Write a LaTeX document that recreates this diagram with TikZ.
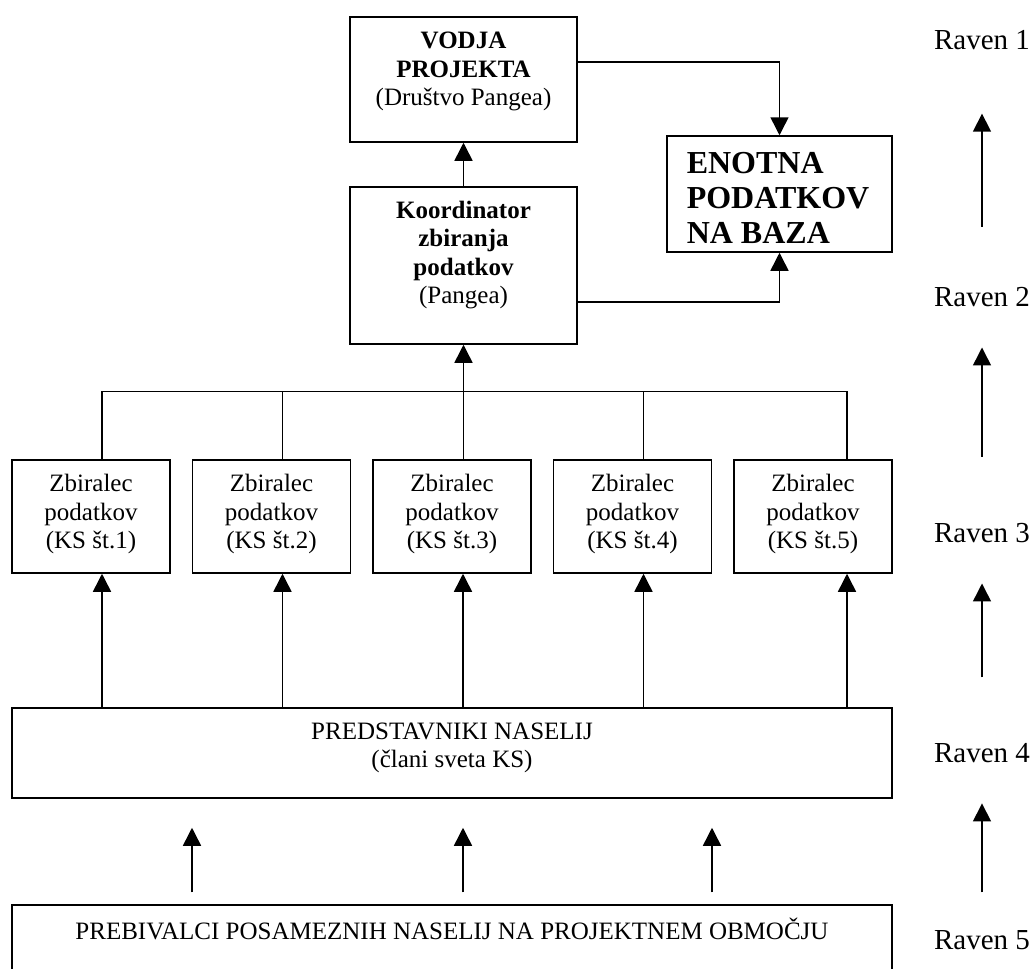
\documentclass[tikz,border=0pt]{standalone}
\usepackage{fontspec}
\setmainfont{Liberation Serif}
\usetikzlibrary{arrows.meta}

\begin{document}
\begin{tikzpicture}[x=0.5pt,y=-0.5pt,line width=0.75pt,
	box/.style={draw,inner sep=0pt},
	txt/.style={align=center,inner sep=0pt,font=\fontsize{12.5}{14.3}\selectfont},
	raven/.style={inner sep=0pt,font=\fontsize{14.5}{17}\selectfont},
	arr/.style={-{Triangle[width=9pt,length=9pt]}}]
	\useasboundingbox (0,0) rectangle (1034,969);
	
	\node[box,minimum width=113.5pt,minimum height=62.5pt] (vodja) at (463.5,79.5) {};
	\node[txt] (vodja-t) at (463.5,71.5) {\textbf{VODJA}\\\textbf{PROJEKTA}\\(Društvo Pangea)};
	\node[box,minimum width=113.5pt,minimum height=78.5pt] (koord) at (463.5,265.5) {};
	\node[txt] (koord-t) at (463.5,255) {\textbf{Koordinator}\\\textbf{zbiranja}\\\textbf{podatkov}\\(Pangea)};
	\node[box,minimum width=112.5pt,minimum height=58pt] (baza) at (779.5,194) {};
	\node[txt,align=left,anchor=west,font=\fontsize{16}{17.5}\selectfont\bfseries] (baza-t) at (686,198) {ENOTNA\\PODATKOV\\NA BAZA};
	
	\foreach \i/\x in {1/91,2/271.5,3/452,4/632.5,5/813} {
		\node[box,minimum width=79pt,minimum height=56.5pt] (zb\i) at (\x,516.5) {};
		\node[txt] (zb\i-t) at (\x,514) {Zbiralec\\podatkov\\(KS št.\i)};
	}
	
	\node[box,minimum width=440pt,minimum height=45pt] (pred) at (452,753) {};
	\node[txt] (pred-t) at (452,748) {PREDSTAVNIKI NASELIJ\\(člani sveta KS)};
	\node[box,minimum width=440pt,minimum height=47.5pt] (preb) at (452,952.5) {};
	\node[txt] (preb-t) at (452,929) {PREBIVALCI POSAMEZNIH NASELIJ NA PROJEKTNEM OBMOČJU};
	
	\foreach \i/\y in {1/40,2/297,3/533,4/753,5/940}
		\node[raven] (r\i) at (982,\y) {Raven \i};
	
	\draw[arr] (koord) -- (vodja);
	\draw[arr] ([yshift=8.75pt]vodja.east) -| (baza.north);
	\draw[arr] ([yshift=-18.25pt]koord.east) -| (baza.south);
	\draw[arr] (zb3.north -| koord.south) -- (koord.south);
	\draw ([xshift=5.5pt,yshift=34pt]zb1.north) -- ([xshift=17pt,yshift=34pt]zb5.north);
	\foreach \i/\d in {1/5.5,2/5.5,4/5.5,5/17}
		\draw ([xshift=\d pt]zb\i.north) -- ([xshift=\d pt,yshift=34pt]zb\i.north);
	\foreach \i/\d in {1/5.5,2/5.5,3/5.5,4/5.5,5/17}
		\draw[arr] ([xshift=\d pt]zb\i.south |- pred.north) -- ([xshift=\d pt]zb\i.south);
	\foreach \d in {-130,5.5,130}
		\draw[arr,shorten <=6pt,shorten >=14.5pt] ([xshift=\d pt]preb.north) -- ([xshift=\d pt]pred.south);
	
	\draw[arr,shorten <=30pt,shorten >=31.6pt] (r2) -- (r1);
	\draw[arr,shorten <=33pt,shorten >=20pt] (r3) -- (r2);
	\draw[arr,shorten <=32.6pt,shorten >=20pt] (r4) -- (r3);
	\draw[arr,shorten <=18.6pt,shorten >=20pt] (r5) -- (r4);
\end{tikzpicture}
\end{document}
